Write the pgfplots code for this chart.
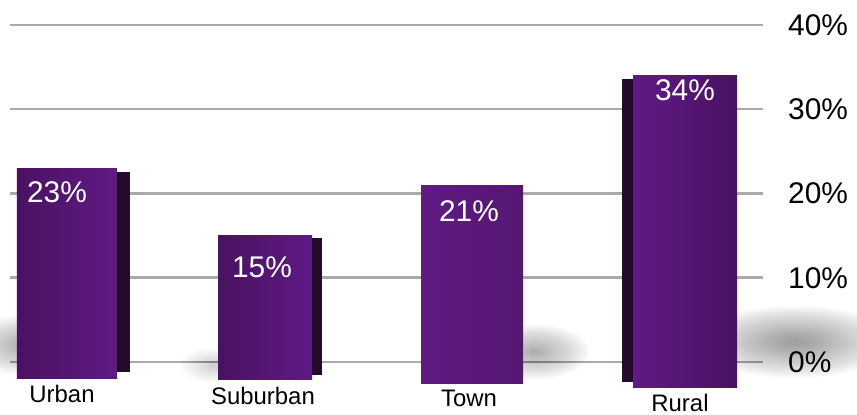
\documentclass[border=0pt]{standalone}
\usepackage{pgfplots}
\pgfplotsset{compat=1.18}
\usepackage{fontspec}
\setmainfont{Liberation Sans}
\definecolor{gridc}{HTML}{AAAAAA}
\definecolor{barD}{HTML}{4A1262}
\definecolor{barL}{HTML}{5F1A84}
\definecolor{barM}{HTML}{561772}
\definecolor{sidec}{HTML}{220B2B}
\begin{document}
\begin{tikzpicture}
\path[use as bounding box] (-10bp,-53bp) rectangle (847bp,362bp);
\begin{axis}[
 at={(0,0)}, anchor=south west, scale only axis,
 width=753bp, height=337bp,
 xmin=10, xmax=763, ymin=0, ymax=40,
 axis line style={draw=none},
 xtick=\empty,
 ytick={0,10,20,30,40},
 yticklabels={0\%,10\%,20\%,30\%,40\%},
 yticklabel pos=right,
 major tick length=0pt,
 yticklabel style={anchor=west, inner sep=0pt, xshift=25bp, font=\fontsize{30}{30}\selectfont},
 ymajorgrids, grid style={gridc, line width=2.5bp},
 clip=false,
]
% soft floor shadows (stacked translucent ellipses)
\pgfplotsinvokeforeach{1,...,24}{\fill[black, opacity=0.019] (axis cs:795,2.4) ellipse [x radius=#1*4.2bp, y radius=#1*1.5bp];}
\pgfplotsinvokeforeach{1,...,24}{\fill[black, opacity=0.016] (axis cs:535,1.2) ellipse [x radius=#1*2.3bp, y radius=#1*1.15bp];}
\pgfplotsinvokeforeach{1,...,24}{\fill[black, opacity=0.016] (axis cs:22,2.0) ellipse [x radius=#1*2.1bp, y radius=#1*1.25bp];}
\pgfplotsinvokeforeach{1,...,24}{\fill[black, opacity=0.008] (axis cs:215,-0.4) ellipse [x radius=#1*1.5bp, y radius=#1*0.75bp];}
% front faces
\addplot[ybar, bar width=100, bar shift=0, draw=none, left color=barD, right color=barL] coordinates {(67,23)};
\addplot[ybar, bar width=100, bar shift=0, draw=none, left color=barD, right color=barL] coordinates {(67,-1.9)};
\addplot[ybar, bar width=94, bar shift=0, draw=none, left color=barD, right color=barL] coordinates {(265,15)};
\addplot[ybar, bar width=94, bar shift=0, draw=none, left color=barD, right color=barL] coordinates {(265,-2.1)};
\addplot[ybar, bar width=102, bar shift=0, draw=none, left color=barL, right color=barM] coordinates {(472,21)};
\addplot[ybar, bar width=102, bar shift=0, draw=none, left color=barL, right color=barM] coordinates {(472,-2.5)};
\addplot[ybar, bar width=104, bar shift=0, draw=none, left color=barL, right color=barD] coordinates {(685,34)};
\addplot[ybar, bar width=104, bar shift=0, draw=none, left color=barL, right color=barD] coordinates {(685,-3.0)};
% side faces
\addplot[ybar, bar width=13, bar shift=0, draw=none, fill=sidec] coordinates {(123.5,22.6)};
\addplot[ybar, bar width=13, bar shift=0, draw=none, fill=sidec] coordinates {(123.5,-1.2)};
\addplot[ybar, bar width=10, bar shift=0, draw=none, fill=sidec] coordinates {(317,14.7)};
\addplot[ybar, bar width=10, bar shift=0, draw=none, fill=sidec] coordinates {(317,-1.6)};
\addplot[ybar, bar width=11, bar shift=0, draw=none, fill=sidec] coordinates {(627.5,33.6)};
\addplot[ybar, bar width=11, bar shift=0, draw=none, fill=sidec] coordinates {(627.5,-2.4)};
% value labels
\node[white, font=\fontsize{30}{30}\selectfont] at (axis cs:57,20.18) {23\%};
\node[white, font=\fontsize{30}{30}\selectfont] at (axis cs:262,11.28) {15\%};
\node[white, font=\fontsize{30}{30}\selectfont] at (axis cs:469,17.92) {21\%};
\node[white, font=\fontsize{30}{30}\selectfont] at (axis cs:685,32.28) {34\%};
% category labels
\node[anchor=base, inner sep=0pt, font=\fontsize{24}{24}\selectfont] at (axis cs:62,-4.75) {Urban};
\node[anchor=base, inner sep=0pt, font=\fontsize{24}{24}\selectfont] at (axis cs:263,-5.10) {Suburban};
\node[anchor=base, inner sep=0pt, font=\fontsize{24}{24}\selectfont] at (axis cs:469,-5.30) {Town};
\node[anchor=base, inner sep=0pt, font=\fontsize{24}{24}\selectfont] at (axis cs:680,-5.85) {Rural};
\end{axis}
\end{tikzpicture}
\end{document}
